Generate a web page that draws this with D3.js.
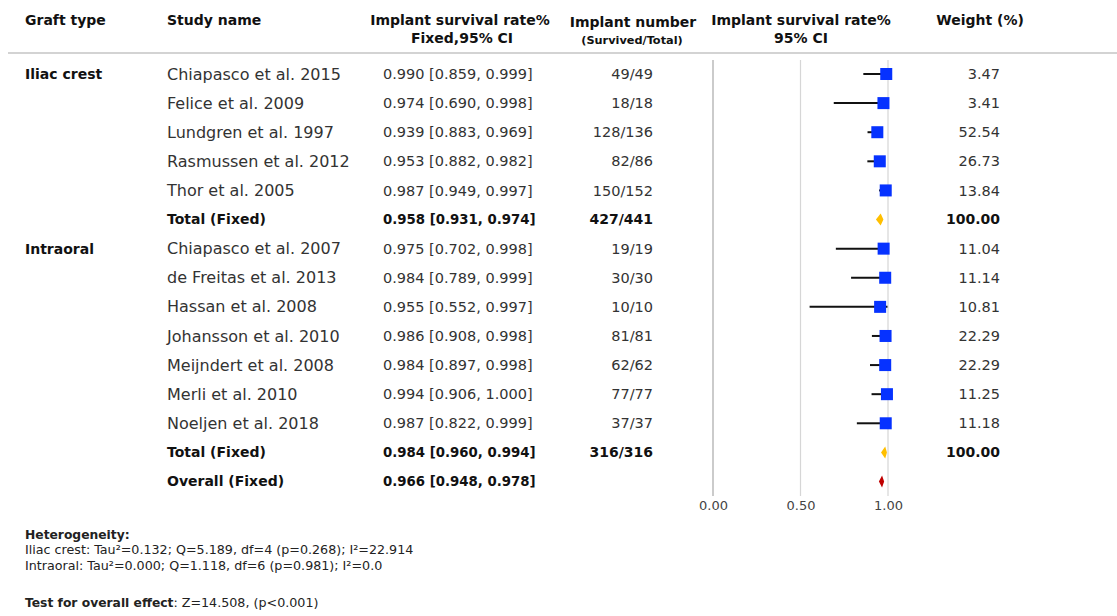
<!DOCTYPE html>
<html>
<head>
<meta charset="utf-8">
<script src="https://cdn.jsdelivr.net/npm/d3@7"></script>
<style>
  body { margin: 0; background: #fff; }
  svg { font-family: "DejaVu Sans", sans-serif; }
</style>
</head>
<body>
<svg id="chart" width="1117" height="616"></svg>
<script>
// ---- data ----
var iliacStudies  = ["Chiapasco et al. 2015", "Felice et al. 2009", "Lundgren et al. 1997", "Rasmussen et al. 2012", "Thor et al. 2005"];
var iliacRate     = [0.990, 0.974, 0.939, 0.953, 0.987];
var iliacLower    = [0.859, 0.690, 0.883, 0.882, 0.949];
var iliacUpper    = [0.999, 0.998, 0.969, 0.982, 0.997];
var iliacSurvived = [49, 18, 128, 82, 150];
var iliacTotal    = [49, 18, 136, 86, 152];
var iliacWeight   = [3.47, 3.41, 52.54, 26.73, 13.84];

var oralStudies  = ["Chiapasco et al. 2007", "de Freitas et al. 2013", "Hassan et al. 2008", "Johansson et al. 2010", "Meijndert et al. 2008", "Merli et al. 2010", "Noeljen et al. 2018"];
var oralRate     = [0.975, 0.984, 0.955, 0.986, 0.984, 0.994, 0.987];
var oralLower    = [0.702, 0.789, 0.552, 0.908, 0.897, 0.906, 0.822];
var oralUpper    = [0.998, 0.999, 0.997, 0.998, 0.998, 1.000, 0.999];
var oralSurvived = [19, 30, 10, 81, 62, 77, 37];
var oralTotal    = [19, 30, 10, 81, 62, 77, 37];
var oralWeight   = [11.04, 11.14, 10.81, 22.29, 22.29, 11.25, 11.18];

// pooled: [rate, lower, upper]
var iliacPooled   = [0.958, 0.931, 0.974];
var oralPooled    = [0.984, 0.960, 0.994];
var overallPooled = [0.966, 0.948, 0.978];

var groupNames = ["Iliac crest", "Intraoral"];
var axisTicks  = [0, 0.5, 1];

var heteroLines = [
  "Iliac crest: Tau\u00b2=0.132; Q=5.189, df=4 (p=0.268); I\u00b2=22.914",
  "Intraoral: Tau\u00b2=0.000; Q=1.118, df=6 (p=0.981); I\u00b2=0.0"
];
var overallTest = "Z=14.508, (p<0.001)";

// ---- build row list ----
var rows = [];
function addGroup(name, studies, rate, lo, hi, surv, tot, wt, pooled) {
  studies.forEach(function(s, i) {
    rows.push({type: "study", group: i === 0 ? name : "", name: s,
               rate: rate[i], lo: lo[i], hi: hi[i],
               n: surv[i] + "/" + tot[i], w: wt[i]});
  });
  rows.push({type: "total", group: "", name: "Total (Fixed)",
             rate: pooled[0], lo: pooled[1], hi: pooled[2],
             n: d3.sum(surv) + "/" + d3.sum(tot), w: 100});
}
addGroup(groupNames[0], iliacStudies, iliacRate, iliacLower, iliacUpper, iliacSurvived, iliacTotal, iliacWeight, iliacPooled);
addGroup(groupNames[1], oralStudies, oralRate, oralLower, oralUpper, oralSurvived, oralTotal, oralWeight, oralPooled);
rows.push({type: "overall", group: "", name: "Overall (Fixed)",
           rate: overallPooled[0], lo: overallPooled[1], hi: overallPooled[2], n: "", w: null});

var svg = d3.select("#chart");

var x = d3.scaleLinear().domain([0, 1]).range([713, 888]);
var y = d3.scaleLinear().domain([0, rows.length - 1]).range([74, 481.5]);
var f3 = d3.format(".3f");
var f2 = d3.format(".2f");

// ---- header ----
var head = svg.append("g").attr("font-weight", "bold").attr("font-size", 14).attr("fill", "#111");
head.append("text").attr("x", 25).attr("y", 25).text("Graft type");
head.append("text").attr("x", 167).attr("y", 25).text("Study name");
head.append("text").attr("x", 460).attr("y", 25).attr("text-anchor", "middle").text("Implant survival rate%");
head.append("text").attr("x", 462).attr("y", 43).attr("text-anchor", "middle").text("Fixed,95% CI");
head.append("text").attr("x", 633).attr("y", 27).attr("text-anchor", "middle").text("Implant number");
head.append("text").attr("x", 632).attr("y", 44).attr("text-anchor", "middle").attr("font-size", 11.3).text("(Survived/Total)");
head.append("text").attr("x", 801).attr("y", 25).attr("text-anchor", "middle").text("Implant survival rate%");
head.append("text").attr("x", 801).attr("y", 43).attr("text-anchor", "middle").text("95% CI");
head.append("text").attr("x", 980).attr("y", 25).attr("text-anchor", "middle").text("Weight (%)");

svg.append("line").attr("x1", 8).attr("x2", 1117).attr("y1", 53).attr("y2", 53)
  .attr("stroke", "#c4c4c4").attr("stroke-width", 1.5);

// ---- reference lines ----
svg.selectAll("line.ref").data(axisTicks).enter().append("line")
  .attr("class", "ref")
  .attr("x1", function(d) { return x(d); }).attr("x2", function(d) { return x(d); })
  .attr("y1", 60).attr("y2", 496)
  .attr("stroke", function(d) { return d === 0 ? "#a8a8a8" : "#d6d6d6"; })
  .attr("stroke-width", 1.2);

// ---- axis ----
var axis = svg.append("g").attr("transform", "translate(0,498)")
  .call(d3.axisBottom(x).tickValues(axisTicks).tickFormat(f2).tickSize(0).tickPadding(3));
axis.select(".domain").remove();
axis.selectAll("text").attr("font-size", 13).attr("fill", "#444")
  .attr("font-family", "DejaVu Sans, sans-serif");

// ---- table rows ----
var rowG = svg.selectAll("g.row").data(rows).enter().append("g")
  .attr("class", "row")
  .attr("transform", function(d, i) { return "translate(0," + y(i) + ")"; });

rowG.append("text").attr("x", 25).attr("dy", "0.35em")
  .attr("font-weight", "bold").attr("font-size", 14).attr("fill", "#111")
  .text(function(d) { return d.group; });

// regular study rows vs bold pooled rows
function styleText(sel, regSize, boldSize) {
  sel.attr("dy", "0.35em")
    .attr("font-weight", function(d) { return d.type === "study" ? "normal" : "bold"; })
    .attr("font-size", function(d) { return d.type === "study" ? regSize : boldSize; })
    .attr("fill", function(d) { return d.type === "study" ? "#333" : "#111"; });
  return sel;
}

rowG.append("text").attr("x", 167).call(styleText, 16, 14).text(function(d) { return d.name; });
rowG.append("text").attr("x", 383).call(styleText, 14.5, 13.3)
  .text(function(d) { return f3(d.rate) + " [" + f3(d.lo) + ", " + f3(d.hi) + "]"; });
rowG.append("text").attr("x", 653).attr("text-anchor", "end").call(styleText, 14.5, 14)
  .text(function(d) { return d.n; });
rowG.append("text").attr("x", 1000).attr("text-anchor", "end").call(styleText, 14.5, 14)
  .text(function(d) { return d.w === null ? "" : f2(d.w); });

// ---- study marks ----
var studyG = rowG.filter(function(d) { return d.type === "study"; });
studyG.append("line")
  .attr("x1", function(d) { return x(d.lo); })
  .attr("x2", function(d) { return x(d.hi); })
  .attr("stroke", "#111").attr("stroke-width", 2);
var sq = 12;
studyG.append("rect")
  .attr("x", function(d) { return x(d.rate) - sq / 2; })
  .attr("y", -sq / 2).attr("width", sq).attr("height", sq)
  .attr("fill", "#0632ff");

// ---- pooled diamonds ----
rowG.filter(function(d) { return d.type !== "study"; }).append("path")
  .attr("d", function(d) {
    return "M" + x(d.lo) + ",0L" + x(d.rate) + ",-6L" + x(d.hi) + ",0L" + x(d.rate) + ",6Z";
  })
  .attr("fill", function(d) { return d.type === "overall" ? "#c00000" : "#ffbf00"; });

// ---- footnotes ----
var foot = svg.append("g").attr("font-size", 12.7).attr("fill", "#222");
foot.append("text").attr("x", 25).attr("y", 539).attr("font-weight", "bold").attr("font-size", 12.3).text("Heterogeneity:");
foot.selectAll("text.het").data(heteroLines).enter().append("text")
  .attr("class", "het").attr("x", 25)
  .attr("y", function(d, i) { return 554 + i * 16; })
  .text(function(d) { return d; });
var t = foot.append("text").attr("x", 25).attr("y", 607);
t.append("tspan").attr("font-weight", "bold").attr("font-size", 12.3).text("Test for overall effect");
t.append("tspan").text(": " + overallTest);
</script>
</body>
</html>
